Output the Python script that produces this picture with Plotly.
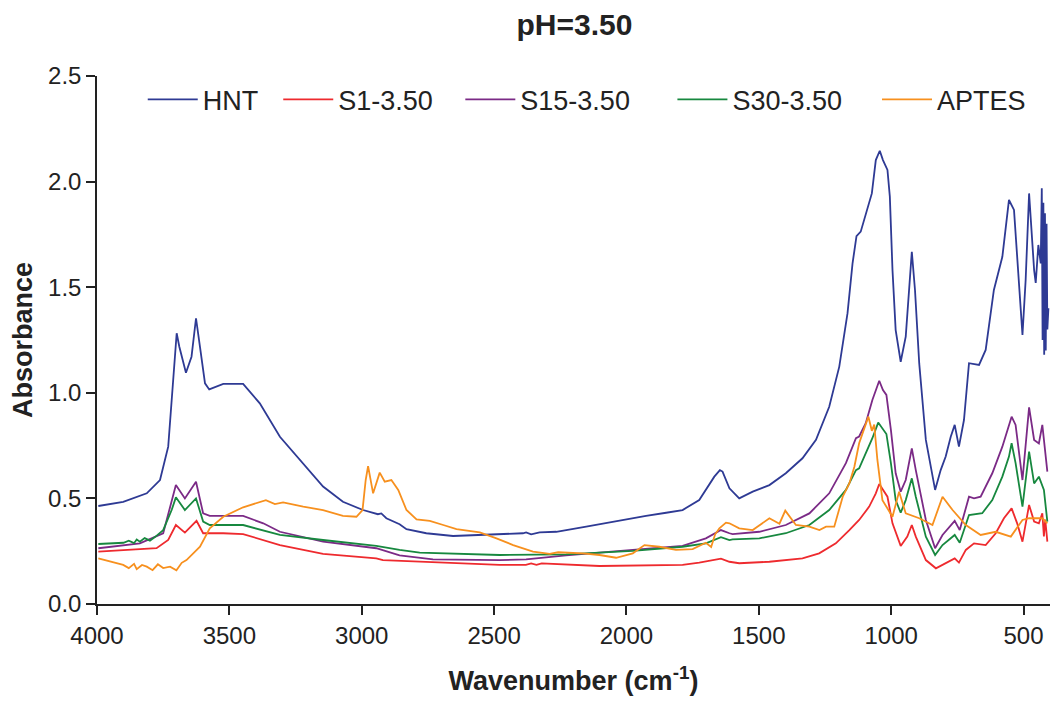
import plotly.graph_objects as go

# ---------------- data ----------------
hnt_wn = [3995, 3901, 3812, 3762, 3731, 3718, 3706, 3699, 3689, 3664, 3643, 3626, 3611, 3592, 3576,
          3523, 3448, 3385, 3309, 3234, 3146, 3071, 2995, 2939, 2926, 2907, 2857, 2831, 2756, 2655,
          2505, 2391, 2379, 2360, 2328, 2265, 2152, 2014, 1926, 1850, 1788, 1725, 1668, 1647, 1637,
          1611, 1574, 1523, 1460, 1398, 1335, 1284, 1234, 1196, 1165, 1146, 1131, 1115, 1096, 1073,
          1058, 1043, 1031, 1014, 1005, 995, 983, 964, 945, 932, 922, 910, 894, 869, 834, 813, 794,
          775, 760, 744, 725, 706, 668, 643, 612, 580, 555, 536, 517, 504, 492, 479, 460, 454, 444,
          435, 431, 428, 425, 422, 419, 416, 413, 410, 406]
hnt_abs = [0.464, 0.484, 0.524, 0.587, 0.745, 0.982, 1.203, 1.282, 1.218, 1.095, 1.171, 1.353, 1.218,
           1.045, 1.016, 1.042, 1.042, 0.950, 0.792, 0.682, 0.556, 0.484, 0.445, 0.425, 0.429, 0.406,
           0.378, 0.354, 0.335, 0.322, 0.328, 0.335, 0.339, 0.330, 0.339, 0.342, 0.366, 0.398, 0.417,
           0.432, 0.445, 0.492, 0.603, 0.634, 0.627, 0.548, 0.500, 0.532, 0.563, 0.619, 0.690, 0.777,
           0.934, 1.124, 1.376, 1.612, 1.742, 1.763, 1.850, 1.944, 2.102, 2.146, 2.102, 2.055, 1.929,
           1.581, 1.297, 1.147, 1.266, 1.487, 1.668, 1.487, 1.139, 0.777, 0.540, 0.634, 0.698, 0.792,
           0.848, 0.745, 0.871, 1.140, 1.132, 1.203, 1.487, 1.644, 1.913, 1.866, 1.534, 1.274, 1.534,
           1.944, 1.581, 1.520, 1.700, 1.613, 1.968, 1.25, 1.90, 1.18, 1.85, 1.20, 1.80, 1.30, 1.40]

s1_wn = [3995, 3775, 3731, 3702, 3668, 3624, 3599, 3523, 3448, 3309, 3146, 2945, 2920, 2857, 2731,
         2479, 2380, 2360, 2340, 2320, 2102, 1788, 1725, 1643, 1611, 1574, 1460, 1335, 1272, 1209,
         1158, 1121, 1083, 1058, 1045, 1026, 1014, 995, 964, 939, 922, 907, 869, 831, 794, 760, 744,
         718, 687, 643, 605, 574, 545, 524, 504, 479, 460, 442, 429, 423, 418, 414, 410]
s1_abs = [0.248, 0.264, 0.303, 0.374, 0.338, 0.394, 0.335, 0.335, 0.331, 0.279, 0.237, 0.216, 0.208,
          0.205, 0.196, 0.185, 0.185, 0.192, 0.185, 0.192, 0.180, 0.185, 0.196, 0.215, 0.200, 0.193,
          0.200, 0.216, 0.240, 0.287, 0.350, 0.398, 0.461, 0.524, 0.568, 0.532, 0.508, 0.382, 0.275,
          0.319, 0.374, 0.319, 0.208, 0.169, 0.193, 0.216, 0.196, 0.256, 0.287, 0.279, 0.335, 0.406,
          0.453, 0.382, 0.295, 0.469, 0.390, 0.382, 0.429, 0.32, 0.40, 0.33, 0.295]

s15_wn = [3995, 3838, 3750, 3718, 3702, 3668, 3626, 3599, 3574, 3448, 3372, 3309, 3146, 2945, 2857,
          2731, 2479, 2379, 2228, 1976, 1788, 1700, 1643, 1611, 1599, 1498, 1398, 1309, 1234, 1171,
          1133, 1121, 1096, 1071, 1045, 1031, 1018, 1001, 983, 964, 945, 922, 907, 869, 834, 806, 760,
          741, 706, 687, 662, 618, 580, 545, 530, 504, 479, 460, 442, 429, 420, 410]
s15_abs = [0.264, 0.287, 0.335, 0.492, 0.563, 0.500, 0.579, 0.429, 0.417, 0.417, 0.382, 0.342, 0.295,
           0.264, 0.230, 0.211, 0.208, 0.211, 0.230, 0.256, 0.275, 0.311, 0.350, 0.335, 0.331, 0.342,
           0.374, 0.429, 0.524, 0.667, 0.785, 0.793, 0.856, 0.966, 1.057, 1.013, 0.990, 0.824, 0.619,
           0.532, 0.587, 0.737, 0.634, 0.398, 0.264, 0.327, 0.394, 0.350, 0.508, 0.500, 0.508, 0.619,
           0.745, 0.887, 0.848, 0.587, 0.931, 0.777, 0.760, 0.848, 0.745, 0.627]

s30_wn = [3995, 3900, 3880, 3860, 3850, 3838, 3820, 3800, 3780, 3750, 3718, 3702, 3668, 3626, 3599,
          3574, 3448, 3372, 3309, 3146, 2945, 2857, 2781, 2479, 2228, 1976, 1788, 1700, 1643, 1611,
          1599, 1498, 1398, 1309, 1234, 1171, 1133, 1121, 1096, 1071, 1049, 1031, 1018, 1001, 983,
          964, 945, 922, 907, 869, 834, 806, 760, 741, 706, 656, 618, 580, 555, 545, 530, 504, 479,
          460, 442, 423, 410]
s30_abs = [0.284, 0.290, 0.300, 0.288, 0.305, 0.295, 0.312, 0.300, 0.318, 0.350, 0.445, 0.505, 0.445,
           0.500, 0.390, 0.374, 0.374, 0.350, 0.327, 0.303, 0.275, 0.256, 0.243, 0.232, 0.235, 0.252,
           0.271, 0.287, 0.316, 0.303, 0.306, 0.311, 0.335, 0.374, 0.445, 0.540, 0.634, 0.642, 0.714,
           0.785, 0.859, 0.824, 0.805, 0.667, 0.492, 0.432, 0.492, 0.595, 0.508, 0.319, 0.232, 0.279,
           0.327, 0.290, 0.421, 0.430, 0.492, 0.603, 0.698, 0.761, 0.667, 0.461, 0.721, 0.571, 0.603,
           0.540, 0.390]

aptes_wn = [3995, 3901, 3880, 3860, 3850, 3830, 3812, 3790, 3770, 3750, 3724, 3700, 3680, 3662, 3611,
            3574, 3523, 3448, 3362, 3328, 3297, 3221, 3146, 3071, 3020, 2997, 2985, 2976, 2957, 2932,
            2913, 2888, 2862, 2831, 2793, 2743, 2692, 2642, 2554, 2491, 2428, 2353, 2290, 2258, 2164,
            2102, 2039, 1976, 1932, 1876, 1813, 1750, 1700, 1680, 1665, 1649, 1624, 1611, 1574, 1523,
            1460, 1422, 1400, 1360, 1309, 1271, 1246, 1215, 1183, 1158, 1139, 1121, 1086, 1073, 1064,
            1052, 1033, 995, 970, 945, 894, 844, 806, 768, 718, 662, 605, 548, 504, 479, 429, 410]
aptes_abs = [0.216, 0.185, 0.170, 0.190, 0.165, 0.185, 0.177, 0.160, 0.188, 0.170, 0.177, 0.160,
             0.195, 0.208, 0.271, 0.358, 0.413, 0.458, 0.492, 0.473, 0.481, 0.461, 0.445, 0.417,
             0.413, 0.445, 0.587, 0.653, 0.524, 0.622, 0.579, 0.587, 0.540, 0.445, 0.401, 0.394,
             0.374, 0.355, 0.339, 0.311, 0.279, 0.248, 0.237, 0.245, 0.240, 0.232, 0.219, 0.240,
             0.279, 0.271, 0.256, 0.260, 0.290, 0.270, 0.330, 0.358, 0.385, 0.382, 0.358, 0.350,
             0.406, 0.380, 0.442, 0.374, 0.366, 0.350, 0.366, 0.366, 0.508, 0.571, 0.650, 0.761,
             0.887, 0.820, 0.850, 0.682, 0.492, 0.413, 0.532, 0.429, 0.406, 0.374, 0.508, 0.445,
             0.374, 0.327, 0.342, 0.319, 0.398, 0.406, 0.406, 0.382]

series_names = ["HNT", "S1-3.50", "S15-3.50", "S30-3.50", "APTES"]
series_wn = [hnt_wn, s1_wn, s15_wn, s30_wn, aptes_wn]
series_abs = [hnt_abs, s1_abs, s15_abs, s30_abs, aptes_abs]
series_colors = ["#2E3A94", "#EE2A2E", "#7B2A86", "#17883F", "#F7901E"]
# trailing non-breaking spaces reproduce the uneven legend spacing of the reference
legend_pad = [2, 3, 5, 4, 0]

x_ticks = [4000, 3500, 3000, 2500, 2000, 1500, 1000, 500]
y_ticks = [0.0, 0.5, 1.0, 1.5, 2.0, 2.5]

FONT = "Liberation Sans, Arial, sans-serif"

fig = go.Figure()
for name, xs, ys, col, pad in zip(series_names, series_wn, series_abs, series_colors, legend_pad):
    fig.add_trace(go.Scatter(x=xs, y=ys, mode="lines", name=name + "\u00a0" * pad,
                             line=dict(color=col, width=1.8)))

fig.update_layout(
    width=1054, height=701,
    margin=dict(l=97, r=4, t=76, b=97),
    paper_bgcolor="white", plot_bgcolor="white",
    font=dict(family=FONT, color="#222222", size=24),
    title=dict(text="<b>pH=3.50</b>", x=0.545, xref="container", xanchor="center",
               y=0.965, yref="container", yanchor="middle",
               font=dict(family=FONT, size=30, color="#222222")),
    legend=dict(orientation="h", x=0.048, xanchor="left", y=0.955, yanchor="middle",
                font=dict(family=FONT, size=27, color="#222222"),
                bgcolor="rgba(0,0,0,0)", itemwidth=50, tracegroupgap=0),
    showlegend=True,
)
fig.update_xaxes(
    range=[4000, 400], tickvals=x_ticks, ticktext=[str(v) for v in x_ticks],
    showline=True, linecolor="#222222", linewidth=1.5, mirror=False,
    ticks="outside", ticklen=9, tickwidth=1.5, tickcolor="#222222",
    showgrid=False, zeroline=False,
    tickfont=dict(family=FONT, size=24, color="#222222"),
    title=dict(text="<b>Wavenumber (cm<sup>-1</sup>)</b>", standoff=24,
               font=dict(family=FONT, size=27, color="#222222")),
)
fig.update_yaxes(
    range=[0, 2.5], tickvals=y_ticks, ticktext=[f"{v:.1f}" for v in y_ticks],
    showline=True, linecolor="#222222", linewidth=1.5, mirror=False,
    ticks="outside", ticklen=9, tickwidth=1.5, tickcolor="#222222",
    showgrid=False, zeroline=False,
    tickfont=dict(family=FONT, size=24, color="#222222"),
    title=dict(text="<b>Absorbance</b>", standoff=8,
               font=dict(family=FONT, size=27, color="#222222")),
)

fig.write_html("out.html")
